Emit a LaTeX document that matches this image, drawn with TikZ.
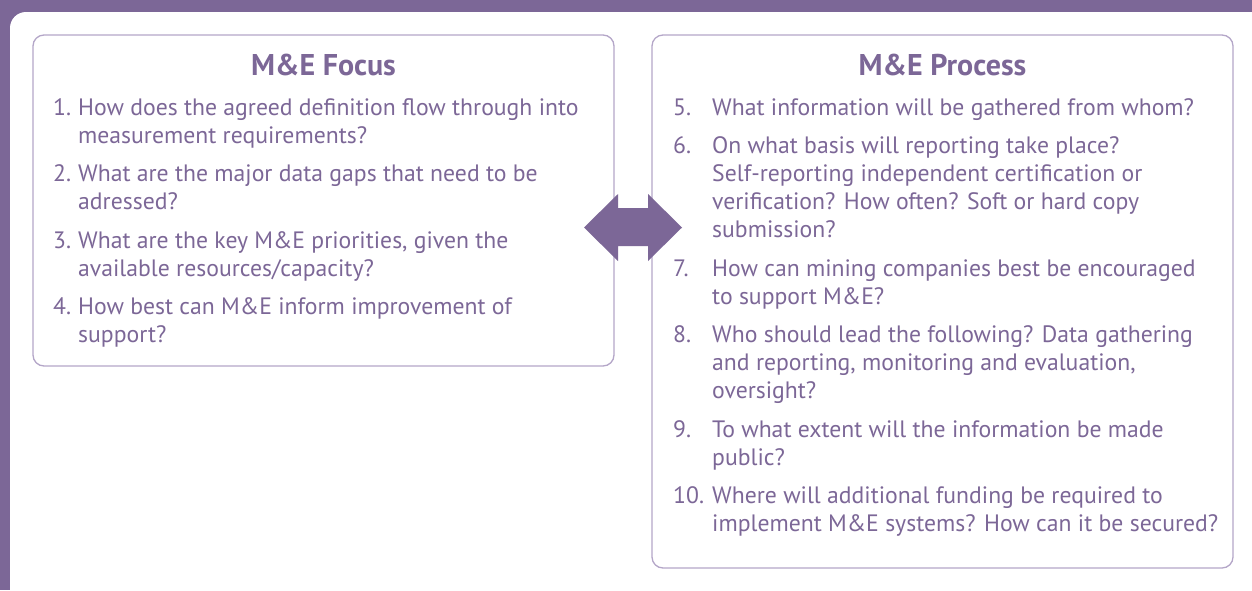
\documentclass[tikz,border=0pt]{standalone}
\usepackage{fontspec}
\setmainfont{PT Sans}
\usetikzlibrary{calc}
\definecolor{mauve}{HTML}{7C6797}
\definecolor{frame}{HTML}{B4A6C8}
\newcommand{\body}{\fontsize{23.7}{28}\selectfont}
\newcommand{\head}{\fontsize{30}{36}\selectfont\bfseries}
\tikzset{
  panel/.style={draw=frame,line width=1.3pt,rounded corners=11pt},
  title/.style={anchor=base,inner sep=0,text=mauve,font=\head},
  num/.style={anchor=base west,inner sep=0,text=mauve,font=\body},
  item/.style={anchor=base west,inner sep=0,text=mauve,font=\body,align=left}
}

\begin{document}
\begin{tikzpicture}[x=1pt,y=-1pt]
\useasboundingbox (0,0) rectangle (1252,590);
\fill[mauve] (0,0) rectangle (1252,590);
\fill[white,rounded corners=16pt] (10,12) rectangle (1268,606);
% the two panels
\draw[panel] (33,35) rectangle (614,366);
\draw[panel] (652,35) rectangle (1233,568);
\node[title] (focus) at (323.5,75) {M\&E Focus};
\node[title] (process) at (942.5,75) {M\&E Process};
% left list (item nodes sit on the baseline of their last line)
\node[num] (n1) at (53,115) {1.};
\node[item] (q1) at (78,143) {How does the agreed definition flow through into\\measurement requirements?};
\node[num] (n2) at (53,181.5) {2.};
\node[item] (q2) at (78,209.5) {What are the major data gaps that need to be\\adressed?};
\node[num] (n3) at (53,248) {3.};
\node[item] (q3) at (78,276) {What are the key M\&E priorities, given the\\available resources/capacity?};
\node[num] (n4) at (53,314.5) {4.};
\node[item] (q4) at (78,342.5) {How best can M\&E inform improvement of\\support?};
% right list
\node[num] (n5) at (673,115) {5.};
\node[item] (q5) at (712,115) {What information will be gathered from whom?};
\node[num] (n6) at (673,153.5) {6.};
\node[item] (q6) at (712,237.5) {On what basis will reporting take place?\\Self-reporting independent certification or\\verification? How often? Soft or hard copy\\submission?};
\node[num] (n7) at (673,276) {7.};
\node[item] (q7) at (712,304) {How can mining companies best be encouraged\\to support M\&E?};
\node[num] (n8) at (673,342.5) {8.};
\node[item] (q8) at (712,398.5) {Who should lead the following? Data gathering\\and reporting, monitoring and evaluation,\\oversight?};
\node[num] (n9) at (673,437) {9.};
\node[item] (q9) at (712,465) {To what extent will the information be made\\public?};
\node[num] (n10) at (673,503.5) {10.};
\node[item] (q10) at (712,531.5) {Where will additional funding be required to\\implement M\&E systems? How can it be secured?};
% link arrow
\fill[mauve] (584,227.5) -- (618,194) -- (618,208) -- (648,208) -- (648,194)
  -- (682,227.5) -- (648,261) -- (648,246) -- (618,246) -- (618,261) -- cycle;
\end{tikzpicture}
\end{document}
